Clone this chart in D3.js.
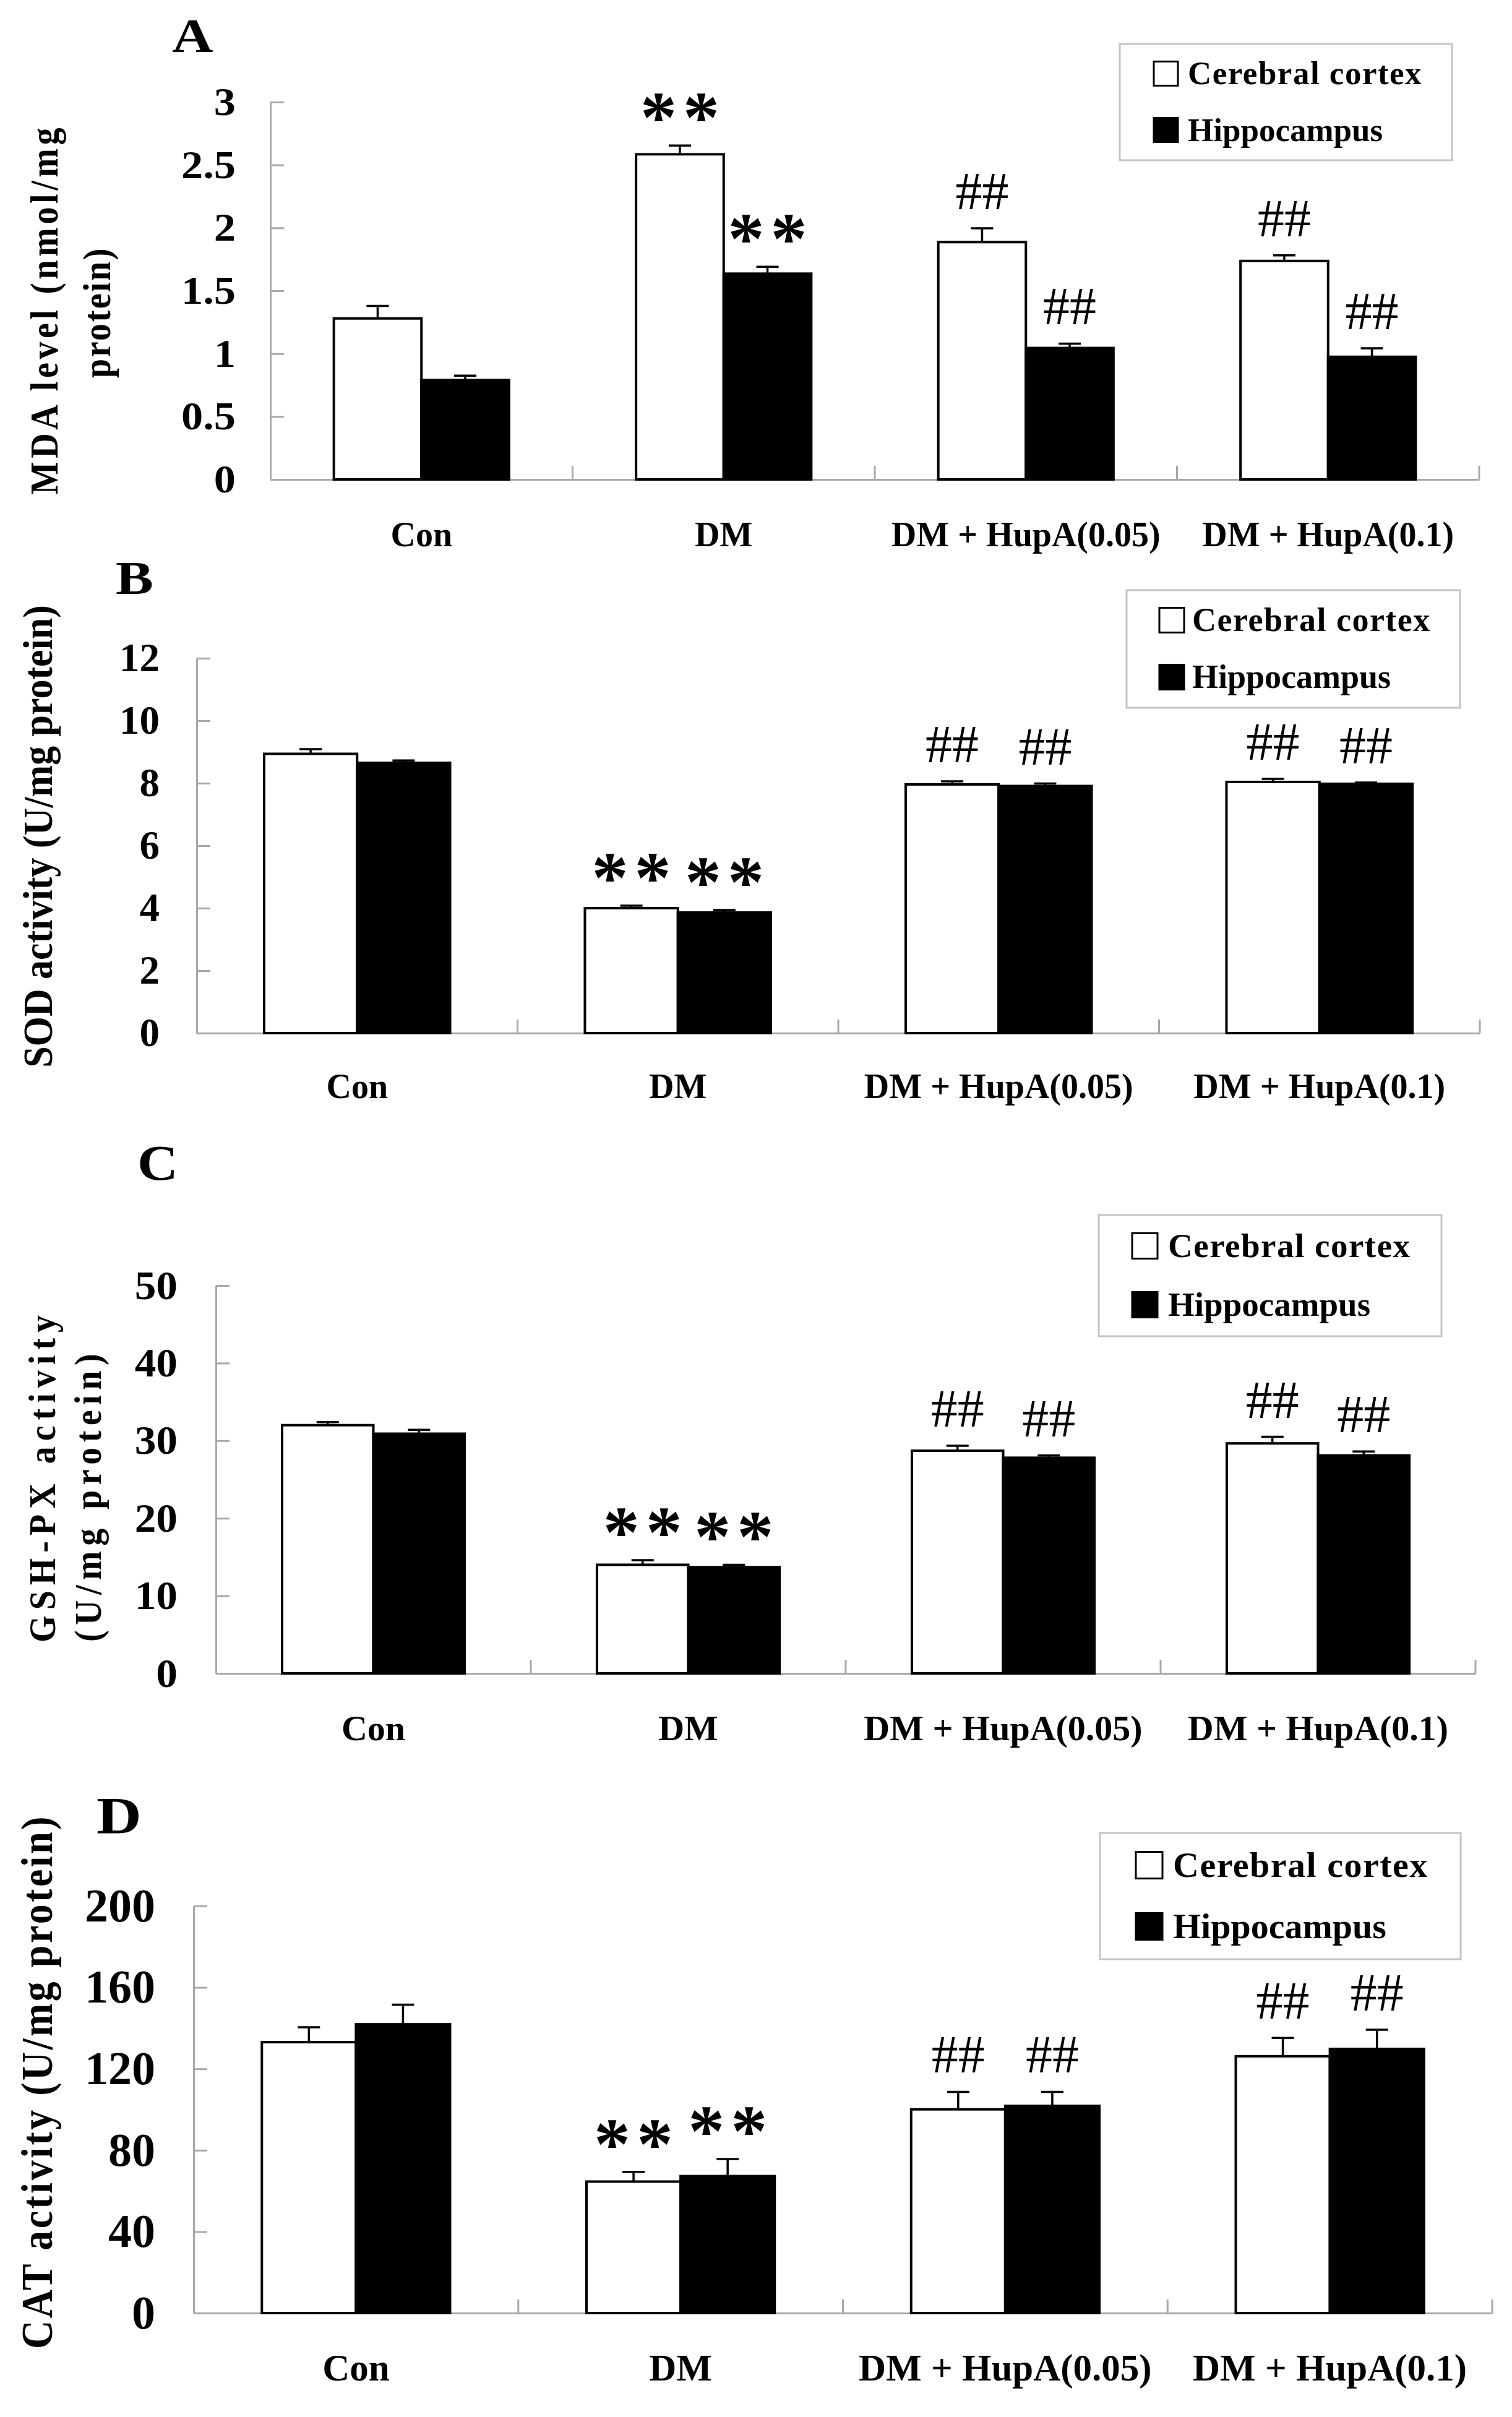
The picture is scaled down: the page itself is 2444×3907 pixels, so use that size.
<!DOCTYPE html>
<html><head><meta charset="utf-8">
<script src="https://cdn.jsdelivr.net/npm/d3@7"></script>
<style>
html,body{margin:0;padding:0;background:#fff;}
svg{display:block;}
</style></head>
<body>
<svg id="chart" width="2444" height="3907"></svg>
<script>
// ---------- data ----------
const categories = ["Con", "DM", "DM + HupA(0.05)", "DM + HupA(0.1)"];
const seriesNames = ["Cerebral cortex", "Hippocampus"];

const mdaCortex = [1.28, 2.585, 1.887, 1.737];
const mdaCortexErr = [0.10, 0.07, 0.11, 0.045];
const mdaHippo = [0.79, 1.636, 1.045, 0.975];
const mdaHippoErr = [0.035, 0.055, 0.035, 0.068];

const sodCortex = [8.94, 4.00, 7.96, 8.04];
const sodCortexErr = [0.15, 0.08, 0.10, 0.10];
const sodHippo = [8.65, 3.86, 7.91, 7.98];
const sodHippoErr = [0.08, 0.08, 0.08, 0.04];

const gshCortex = [32.0, 14.0, 28.7, 29.65];
const gshCortexErr = [0.4, 0.6, 0.65, 0.85];
const gshHippo = [30.9, 13.7, 27.8, 28.1];
const gshHippoErr = [0.5, 0.3, 0.3, 0.5];

const catCortex = [133.1, 64.6, 100.1, 126.2];
const catCortexErr = [7.3, 4.8, 8.6, 9.0];
const catHippo = [141.9, 67.3, 101.8, 129.8];
const catHippoErr = [9.6, 8.4, 6.9, 9.4];

const markCortex = ["", "**", "##", "##"];
const markHippo = ["", "**", "##", "##"];

const mdaTicks = [0, 0.5, 1, 1.5, 2, 2.5, 3];
const sodTicks = [0, 2, 4, 6, 8, 10, 12];
const gshTicks = [0, 10, 20, 30, 40, 50];
const catTicks = [0, 40, 80, 120, 160, 200];

// ---------- layout ----------
const SERIF = "'Liberation Serif','Times New Roman',serif";
const AXIS_GRAY = "#a8a8a8";
const LEGEND_GRAY = "#c4c4c4";

const panels = [
  { letter: "A", letterPos: [278, 84], letterFont: 78, letterSx: 1.18,
    cortex: mdaCortex, cortexErr: mdaCortexErr, hippo: mdaHippo, hippoErr: mdaHippoErr,
    ticks: mdaTicks, x0: 437, x1: 2391, yTop: 165, yBot: 775,
    tickFont: 64, tickSx: 1.1, tickGap: 56,
    catFont: 56, catOffset: 108,
    titles: [
      { text: "MDA level (nmol/mg", x: 93, y: 500, font: 56, spacing: 5.6, sy: 1.12 },
      { text: "protein)", x: 178, y: 505, font: 56, spacing: 2.5, sy: 1.12 }],
    legend: { x: 1810, y: 71, w: 537, h: 188, sq: 39, sqX: 55, textX: 110, font: 53 } },
  { letter: "B", letterPos: [187, 960], letterFont: 76, letterSx: 1.2,
    cortex: sodCortex, cortexErr: sodCortexErr, hippo: sodHippo, hippoErr: sodHippoErr,
    ticks: sodTicks, x0: 318, x1: 2392, yTop: 1064, yBot: 1670,
    tickFont: 65, tickSx: 1, tickGap: 60,
    catFont: 56, catOffset: 105,
    titles: [{ text: "SOD activity (U/mg protein)", x: 84, y: 1352, font: 62, spacing: 0, sy: 1.1 }],
    legend: { x: 1821, y: 954, w: 539, h: 190, sq: 40, sqX: 53, textX: 106, font: 54 } },
  { letter: "C", letterPos: [222, 1907], letterFont: 80, letterSx: 1.14,
    cortex: gshCortex, cortexErr: gshCortexErr, hippo: gshHippo, hippoErr: gshHippoErr,
    ticks: gshTicks, x0: 349, x1: 2385, yTop: 2078, yBot: 2705,
    tickFont: 66, tickSx: 1.05, tickGap: 62,
    catFont: 58, catOffset: 108,
    titles: [
      { text: "GSH-PX activity", x: 89, y: 2386, font: 56, spacing: 9, sy: 1.1 },
      { text: "(U/mg protein)", x: 163, y: 2417, font: 56, spacing: 8.5, sy: 1.1 }],
    legend: { x: 1776, y: 1964, w: 554, h: 196, sq: 41, sqX: 54, textX: 112, font: 55 } },
  { letter: "D", letterPos: [156, 2964], letterFont: 84, letterSx: 1.2,
    cortex: catCortex, cortexErr: catCortexErr, hippo: catHippo, hippoErr: catHippoErr,
    ticks: catTicks, x0: 313, x1: 2412, yTop: 3081, yBot: 3739,
    tickFont: 76, tickSx: 1, tickGap: 62,
    catFont: 61, catOffset: 109,
    titles: [{ text: "CAT activity (U/mg protein)", x: 84, y: 3365, font: 64, spacing: 3.5, sy: 1.12 }],
    legend: { x: 1778, y: 2963, w: 583, h: 204, sq: 43, sqX: 58, textX: 118, font: 58 } }
];

const svg = d3.select("#chart");
svg.append("rect").attr("width", 2444).attr("height", 3907).attr("fill", "#fff");

panels.forEach(p => {
  const g = svg.append("g");
  const maxTick = d3.max(p.ticks);
  const y = d3.scaleLinear().domain([0, maxTick]).range([p.yBot, p.yTop]);
  const x = d3.scaleBand().domain(categories).range([p.x0, p.x1]).padding(0);
  const xs = d3.scaleBand().domain(seriesNames).range([0, x.bandwidth()])
    .paddingInner(0).paddingOuter(0.725);

  // panel letter
  g.append("text")
    .attr("transform", `translate(${p.letterPos[0]},${p.letterPos[1]}) scale(${p.letterSx},1)`)
    .attr("font-family", SERIF).attr("font-weight", "bold").attr("font-size", p.letterFont)
    .text(p.letter);

  // y axis (inner ticks)
  const yAxis = d3.axisLeft(y).tickValues(p.ticks).tickFormat(d3.format("~g"))
    .tickSizeInner(-22).tickSizeOuter(0).tickPadding(p.tickGap);
  const ya = g.append("g").attr("transform", `translate(${p.x0},0)`).call(yAxis);
  ya.select(".domain").attr("stroke", AXIS_GRAY).attr("stroke-width", 3);
  ya.selectAll(".tick line").attr("stroke", AXIS_GRAY).attr("stroke-width", 3);
  ya.selectAll(".tick text")
    .attr("x", -p.tickGap / p.tickSx)
    .attr("transform", `scale(${p.tickSx},1)`)
    .attr("font-family", SERIF).attr("font-weight", "bold")
    .attr("font-size", p.tickFont).attr("fill", "#000");

  // x axis
  const xAxis = d3.axisBottom(x).tickSize(0).tickPadding(p.catOffset);
  const xa = g.append("g").attr("transform", `translate(0,${p.yBot})`).call(xAxis);
  xa.select(".domain").attr("stroke", AXIS_GRAY).attr("stroke-width", 3);
  xa.selectAll(".tick text").attr("dy", 0).attr("font-family", SERIF).attr("font-weight", "bold")
    .attr("font-size", p.catFont).attr("fill", "#000");
  // category boundary ticks (pointing up)
  const bounds = categories.map(c => x(c)).concat([x(categories[categories.length - 1]) + x.bandwidth()]);
  g.append("g").selectAll("line").data(bounds.slice(1)).join("line")
    .attr("x1", d => d).attr("x2", d => d)
    .attr("y1", p.yBot).attr("y2", p.yBot - 22)
    .attr("stroke", AXIS_GRAY).attr("stroke-width", 3);

  // bars
  const seriesData = [
    { name: seriesNames[0], vals: p.cortex, errs: p.cortexErr, marks: markCortex, fill: "#fff" },
    { name: seriesNames[1], vals: p.hippo, errs: p.hippoErr, marks: markHippo, fill: "#000" }
  ];
  seriesData.forEach(s => {
    const items = categories.map((c, i) => ({ c, v: s.vals[i], e: s.errs[i], m: s.marks[i] }));
    const sg = g.append("g");
    const bx = d => x(d.c) + xs(s.name);
    const cx = d => bx(d) + xs.bandwidth() / 2;
    sg.selectAll("line.err").data(items).join("line").attr("class", "err")
      .attr("x1", cx).attr("x2", cx)
      .attr("y1", d => y(d.v)).attr("y2", d => y(d.v + d.e))
      .attr("stroke", "#000").attr("stroke-width", 3.5);
    sg.selectAll("line.cap").data(items).join("line").attr("class", "cap")
      .attr("x1", d => cx(d) - 18).attr("x2", d => cx(d) + 18)
      .attr("y1", d => y(d.v + d.e)).attr("y2", d => y(d.v + d.e))
      .attr("stroke", "#000").attr("stroke-width", 3.5);
    sg.selectAll("rect").data(items).join("rect")
      .attr("x", bx).attr("y", d => y(d.v))
      .attr("width", xs.bandwidth()).attr("height", d => y(0) - y(d.v))
      .attr("fill", s.fill).attr("stroke", "#000").attr("stroke-width", 4);
    sg.selectAll("text.mark").data(items.filter(d => d.m)).join("text").attr("class", "mark")
      .attr("x", d => d.m === "**" ? cx(d) + 5 : cx(d))
      .attr("y", d => d.m === "**" ? y(d.v + d.e) - 5 : y(d.v + d.e) - 31)
      .attr("text-anchor", "middle")
      .attr("font-family", SERIF)
      .attr("font-weight", d => d.m === "**" ? "bold" : "normal")
      .attr("font-size", d => d.m === "**" ? 118 : 86)
      .attr("letter-spacing", d => d.m === "**" ? 10 : 0)
      .text(d => d.m);
  });

  // y titles (rotated)
  p.titles.forEach(t => {
    g.append("text")
      .attr("transform", `translate(${t.x},${t.y}) rotate(-90) scale(1,${t.sy})`)
      .attr("text-anchor", "middle")
      .attr("font-family", SERIF).attr("font-weight", "bold")
      .attr("font-size", t.font).attr("letter-spacing", t.spacing)
      .text(t.text);
  });

  // legend
  const L = p.legend;
  const lg = g.append("g").attr("transform", `translate(${L.x},${L.y})`);
  lg.append("rect").attr("width", L.w).attr("height", L.h)
    .attr("fill", "#fff").attr("stroke", LEGEND_GRAY).attr("stroke-width", 3);
  const rows = [{ name: seriesNames[0], fill: "#fff", cy: L.h * 0.255 }, { name: seriesNames[1], fill: "#000", cy: L.h * 0.74 }];
  rows.forEach(r => {
    lg.append("rect").attr("x", L.sqX).attr("y", r.cy - L.sq / 2).attr("width", L.sq).attr("height", L.sq)
      .attr("fill", r.fill).attr("stroke", "#000").attr("stroke-width", 3);
    lg.append("text").attr("x", L.textX).attr("y", r.cy + 0.331 * L.font)
      .attr("font-family", SERIF).attr("font-weight", "bold").attr("font-size", L.font)
      .attr("letter-spacing", r.fill === "#fff" ? 1.5 : 0)
      .text(r.name);
  });
});
</script>
</body></html>
